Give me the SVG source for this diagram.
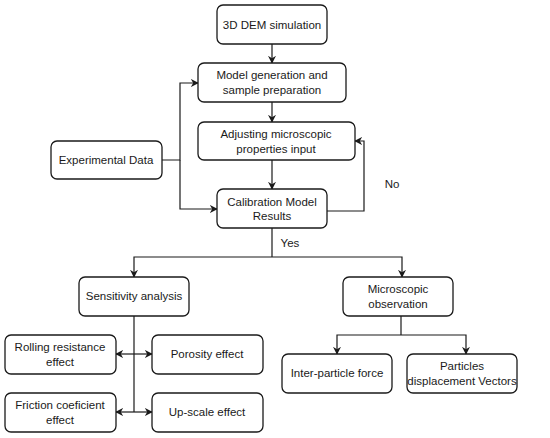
<svg xmlns="http://www.w3.org/2000/svg" width="550" height="438" viewBox="0 0 550 438">
<defs>
<marker id="ah" viewBox="0 0 10 10" refX="9" refY="5" markerWidth="8" markerHeight="8" markerUnits="userSpaceOnUse" orient="auto-start-reverse">
<path d="M0,0 L10,5 L0,10 L3,5 Z" fill="#1a1a1a"/>
</marker>
<style>
.box{fill:#fff;stroke:#1a1a1a;stroke-width:1.3}
.t{font-family:"Liberation Sans",Arial,sans-serif;font-size:11.5px;fill:#1a1a1a;text-anchor:middle;dominant-baseline:central}
.c{fill:none;stroke:#1a1a1a;stroke-width:1.2}
</style>
</defs>
<rect width="550" height="438" fill="#fff"/>
<g id="connectors">
<path class="c" d="M272,44 V63" marker-end="url(#ah)"/>
<path class="c" d="M272,102 V122" marker-end="url(#ah)"/>
<path class="c" d="M272,160 V189" marker-end="url(#ah)"/>
<path class="c" d="M162,160 H180 V83 H198" marker-end="url(#ah)"/>
<path class="c" d="M180,160 V209 H217" marker-end="url(#ah)"/>
<path class="c" d="M327,211 H364 V141 H355" marker-end="url(#ah)"/>
<path class="c" d="M272,228 V257"/>
<path class="c" d="M272,257 H134 V277" marker-end="url(#ah)"/>
<path class="c" d="M272,257 H402 V277" marker-end="url(#ah)"/>
<path class="c" d="M134,316 V412"/>
<path class="c" d="M134,354 H116" marker-end="url(#ah)"/>
<path class="c" d="M134,354 H152" marker-end="url(#ah)"/>
<path class="c" d="M134,412 H116" marker-end="url(#ah)"/>
<path class="c" d="M134,412 H152" marker-end="url(#ah)"/>
<path class="c" d="M401,316 V335"/>
<path class="c" d="M401,335 H337 V354" marker-end="url(#ah)"/>
<path class="c" d="M401,335 H466 V354" marker-end="url(#ah)"/>
<text class="t" x="392" y="184">No</text>
<text class="t" x="290" y="243">Yes</text>
</g>
<g id="dem"><rect class="box" x="217" y="5" width="110" height="39" rx="6"/><text class="t" x="272" y="24.5">3D DEM simulation</text></g>
<g id="model"><rect class="box" x="198" y="63" width="148" height="39" rx="6"/><text class="t" x="272" y="75">Model generation and</text><text class="t" x="272" y="90">sample preparation</text></g>
<g id="adjust"><rect class="box" x="198" y="122" width="157" height="38" rx="6"/><text class="t" x="276" y="133.5">Adjusting microscopic</text><text class="t" x="276" y="148.5">properties input</text></g>
<g id="exp"><rect class="box" x="51" y="141" width="111" height="38" rx="6"/><text class="t" x="106" y="160">Experimental Data</text></g>
<g id="calib"><rect class="box" x="217" y="189" width="110" height="39" rx="6"/><text class="t" x="272" y="202">Calibration Model</text><text class="t" x="272" y="215.5">Results</text></g>
<g id="sens"><rect class="box" x="79" y="277" width="110" height="39" rx="6"/><text class="t" x="134" y="296">Sensitivity analysis</text></g>
<g id="micro"><rect class="box" x="343" y="277" width="110" height="39" rx="6"/><text class="t" x="398" y="289">Microscopic</text><text class="t" x="398" y="303.5">observation</text></g>
<g id="rolling"><rect class="box" x="5" y="335" width="111" height="39" rx="6"/><text class="t" x="60" y="347">Rolling resistance</text><text class="t" x="60" y="362">effect</text></g>
<g id="porosity"><rect class="box" x="152" y="335" width="111" height="39" rx="6"/><text class="t" x="207" y="354">Porosity effect</text></g>
<g id="friction"><rect class="box" x="5" y="393" width="111" height="39" rx="6"/><text class="t" x="60" y="404.5">Friction coeficient</text><text class="t" x="60" y="419.5">effect</text></g>
<g id="upscale"><rect class="box" x="152" y="393" width="111" height="39" rx="6"/><text class="t" x="207" y="412">Up-scale effect</text></g>
<g id="inter"><rect class="box" x="282" y="354" width="110" height="39" rx="6"/><text class="t" x="337" y="373">Inter-particle force</text></g>
<g id="particles"><rect class="box" x="407" y="354" width="110" height="39" rx="6"/><text class="t" x="462" y="366">Particles</text><text class="t" x="462" y="381">displacement Vectors</text></g>
</svg>
